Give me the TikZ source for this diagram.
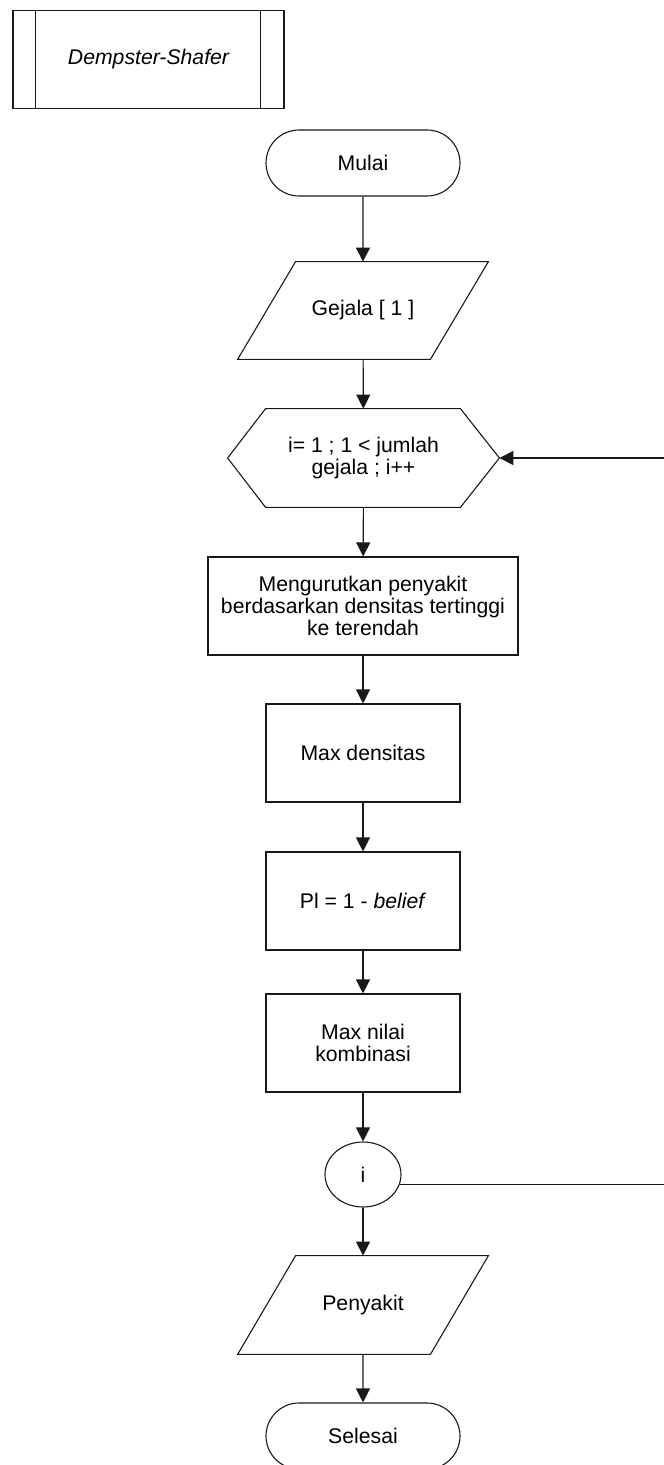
\documentclass[tikz,border=0pt]{standalone}
\usepackage{fontspec}
\setmainfont{Liberation Sans}
\usetikzlibrary{shapes.misc,shapes.geometric,arrows.meta,calc}
\begin{document}
\begin{tikzpicture}[x=0.5pt,y=-0.5pt,
  every node/.style={font=\fontsize{10.6}{11}\selectfont, inner sep=0pt, align=center},
  line/.style={line width=0.55pt, draw=black!90},
  arr/.style={line, -{Triangle[length=7pt,width=7pt]}},
  procbox/.style={rectangle, line, minimum width=#1},
  term/.style={rounded rectangle, line, minimum width=97pt, minimum height=33pt},
  shell/.style={draw=none, rectangle}
]
\useasboundingbox (0,0) rectangle (663,1465);

% predefined process
\node[procbox=135.5pt, minimum height=49pt] (ds) at (148.5,59.5) {\itshape Dempster-Shafer};
\draw[line] ($(ds.north west)+(23,0)$) -- ($(ds.south west)+(23,0)$);
\draw[line] ($(ds.north east)+(-24,0)$) -- ($(ds.south east)+(-24,0)$);

% start
\node[term] (mulai) at (363,163) {Mulai};

% input gejala
\node[shell, minimum width=125pt, minimum height=48.5pt] (gej) at (363,310.5) {Gejala [ 1 ]};
\draw[line] ($(gej.north west)+(58,0)$) -- (gej.north east) -- ($(gej.south east)+(-58,0)$) -- (gej.south west) -- cycle;

% loop hexagon
\node[shell, minimum width=135.5pt, minimum height=49pt] (loop) at (363.5,458) {i= 1 ; 1 < jumlah\\gejala ; i++};
\draw[line] (loop.west) -- ($(loop.north west)+(38,0)$) -- ($(loop.north east)+(-39,0)$) -- (loop.east)
  -- ($(loop.south east)+(-39,0)$) -- ($(loop.south west)+(38,0)$) -- cycle;

% processes
\node[procbox=155pt, minimum height=49pt] (urut) at (363,606) {Mengurutkan penyakit\\berdasarkan densitas tertinggi\\ke terendah};
\node[procbox=97pt, minimum height=49pt] (maxd) at (363,753) {Max densitas};
\node[procbox=97pt, minimum height=49pt] (pl) at (363,901) {Pl = 1 - \textit{belief}};
\node[procbox=97pt, minimum height=49pt] (maxn) at (363,1043) {Max nilai\\kombinasi};

% connector circle
\node[ellipse, line, minimum width=38pt, minimum height=32.5pt] (ci) at (363,1174.5) {i};

% output penyakit
\node[shell, minimum width=125pt, minimum height=49pt] (peny) at (363,1305) {Penyakit};
\draw[line] ($(peny.north west)+(58,0)$) -- (peny.north east) -- ($(peny.south east)+(-58,0)$) -- (peny.south west) -- cycle;

% end
\node[term] (selesai) at (363,1436) {Selesai};

% arrows
\draw[arr] (mulai) -- (gej);
\draw[arr] (gej) -- (loop);
\draw[arr] (loop) -- (urut);
\draw[arr] (urut) -- (maxd);
\draw[arr] (maxd) -- (pl);
\draw[arr] (pl) -- (maxn);
\draw[arr] (maxn) -- (ci);
\draw[arr] (ci) -- (peny);
\draw[arr] (peny) -- (selesai);

% feedback
\coordinate (fbA) at (667,1184);
\coordinate (fbB) at (667,458);
\draw[arr] (ci.-15) -- (ci.-15 -| fbA) -- (fbB) -- (loop.east);
\end{tikzpicture}
\end{document}
